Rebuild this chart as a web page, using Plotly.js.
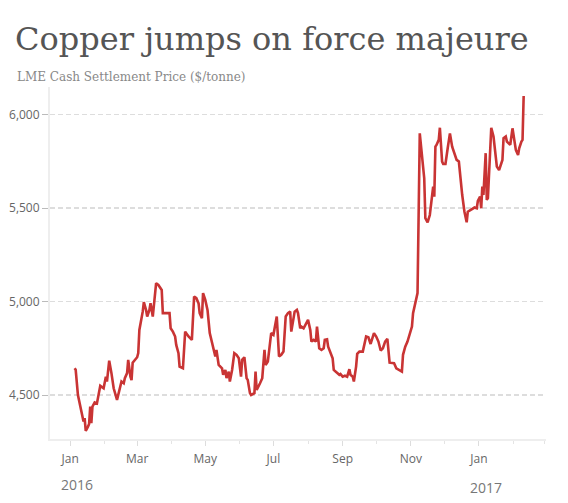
<!DOCTYPE html>
<html>
<head>
<meta charset="utf-8">
<script src="https://cdn.plot.ly/plotly-3.0.1.min.js"></script>
<style>html,body{margin:0;padding:0;background:#fff}#chart{width:568px;height:503px}</style>
</head>
<body>
<div id="chart"></div>
<script>
var dates = [
"2016-01-05","2016-01-06","2016-01-08","2016-01-10","2016-01-12","2016-01-13","2016-01-14","2016-01-15","2016-01-17","2016-01-18",
"2016-01-19","2016-01-20","2016-01-21","2016-01-23","2016-01-25","2016-01-26","2016-01-28","2016-01-31","2016-02-02","2016-02-03",
"2016-02-05","2016-02-07","2016-02-09","2016-02-12","2016-02-14","2016-02-16","2016-02-18","2016-02-19","2016-02-21","2016-02-22",
"2016-02-24","2016-02-25","2016-02-26","2016-02-28","2016-03-01","2016-03-02","2016-03-03","2016-03-06","2016-03-07","2016-03-09",
"2016-03-10","2016-03-12","2016-03-13","2016-03-15","2016-03-16","2016-03-18","2016-03-20","2016-03-23","2016-03-24","2016-03-27",
"2016-03-30","2016-03-31","2016-04-02","2016-04-04","2016-04-05","2016-04-07","2016-04-08","2016-04-11","2016-04-13","2016-04-16",
"2016-04-19","2016-04-21","2016-04-23","2016-04-25","2016-04-26","2016-04-28","2016-04-29","2016-05-01","2016-05-03","2016-05-05",
"2016-05-07","2016-05-08","2016-05-10","2016-05-11","2016-05-13","2016-05-16","2016-05-17","2016-05-19","2016-05-20","2016-05-22",
"2016-05-23","2016-05-25","2016-05-27","2016-05-29","2016-05-31","2016-06-02","2016-06-03","2016-06-05","2016-06-07","2016-06-08",
"2016-06-10","2016-06-11","2016-06-14","2016-06-15","2016-06-16","2016-06-19","2016-06-21","2016-06-23","2016-06-24","2016-06-26",
"2016-06-28","2016-06-29","2016-07-01","2016-07-02","2016-07-04","2016-07-06","2016-07-08","2016-07-10","2016-07-12","2016-07-14",
"2016-07-16","2016-07-17","2016-07-19","2016-07-20","2016-07-22","2016-07-23","2016-07-25","2016-07-26","2016-07-28","2016-07-31",
"2016-08-01","2016-08-03","2016-08-04","2016-08-06","2016-08-08","2016-08-09","2016-08-11","2016-08-13","2016-08-15","2016-08-16",
"2016-08-18","2016-08-19","2016-08-21","2016-08-23","2016-08-24","2016-08-27","2016-08-29","2016-08-30","2016-09-01","2016-09-03",
"2016-09-05","2016-09-07","2016-09-08","2016-09-10","2016-09-11","2016-09-13","2016-09-14","2016-09-16","2016-09-19","2016-09-22",
"2016-09-24","2016-09-26","2016-09-28","2016-09-29","2016-10-01","2016-10-03","2016-10-05","2016-10-07","2016-10-09","2016-10-11",
"2016-10-13","2016-10-15","2016-10-17","2016-10-19","2016-10-21","2016-10-24","2016-10-25","2016-10-27","2016-10-29","2016-10-31",
"2016-11-02","2016-11-03","2016-11-05","2016-11-07","2016-11-09","2016-11-13","2016-11-14","2016-11-16","2016-11-18","2016-11-20",
"2016-11-21","2016-11-22","2016-11-23","2016-11-24","2016-11-26","2016-11-27","2016-11-29","2016-11-30","2016-12-02","2016-12-04",
"2016-12-06","2016-12-08","2016-12-10","2016-12-12","2016-12-14","2016-12-15","2016-12-17","2016-12-19","2016-12-21","2016-12-22",
"2016-12-25","2016-12-28","2016-12-30","2016-12-31","2017-01-02","2017-01-03","2017-01-04","2017-01-05","2017-01-07","2017-01-08",
"2017-01-09","2017-01-10","2017-01-12","2017-01-14","2017-01-15","2017-01-17","2017-01-19","2017-01-20","2017-01-22","2017-01-23",
"2017-01-25","2017-01-26","2017-01-29","2017-01-31","2017-02-01","2017-02-03","2017-02-05","2017-02-06","2017-02-08","2017-02-09",
"2017-02-10"
];
var prices = [
4643,4635,4500,4438,4376,4358,4376,4308,4331,4345,
4438,4349,4438,4460,4455,4492,4549,4536,4598,4572,
4684,4617,4536,4474,4527,4572,4563,4590,4617,4688,
4598,4580,4673,4688,4702,4724,4848,4946,4997,4955,
4920,4955,4991,4920,4973,5098,5089,5062,4938,4938,
4938,4857,4839,4813,4768,4724,4652,4643,4839,4813,
4795,5027,5018,4990,4938,4911,5045,5009,4955,4831,
4786,4750,4706,4741,4661,4643,4608,4634,4590,4625,
4572,4634,4724,4715,4697,4598,4688,4702,4590,4581,
4510,4500,4510,4625,4527,4563,4590,4741,4661,4679,
4777,4831,4822,4857,4920,4706,4715,4733,4920,4938,
4946,4839,4911,4946,4955,4938,4857,4866,4857,4893,
4902,4848,4786,4795,4786,4866,4750,4741,4750,4795,
4798,4759,4732,4697,4634,4617,4608,4612,4598,4603,
4598,4638,4608,4598,4572,4652,4720,4732,4732,4813,
4809,4773,4813,4831,4813,4786,4738,4750,4786,4800,
4673,4670,4670,4643,4634,4625,4715,4759,4786,4831,
4866,4938,5000,5045,5900,5660,5446,5424,5463,5553,
5615,5561,5829,5838,5865,5930,5749,5736,5736,5820,
5900,5829,5794,5758,5749,5677,5570,5481,5424,5481,
5490,5503,5499,5538,5561,5499,5615,5570,5794,5544,
5553,5677,5930,5883,5829,5722,5704,5722,5758,5874,
5883,5856,5838,5927,5892,5811,5784,5820,5856,5865,
6100
];
var monthTickVals = ["2016-01-01","2016-03-01","2016-05-01","2016-07-01","2016-09-01","2016-11-01","2017-01-01"];
var monthTickText = ["Jan","Mar","May","Jul","Sep","Nov","Jan"];
var yearLabels = ["2016","2017"];
var yearDates = ["2016-01-01","2017-01-01"];
var yTickVals = [4500,5000,5500,6000];
var yTickText = ["4,500","5,000","5,500","6,000"];

var trace = {
  x: dates, y: prices, type: "scatter", mode: "lines",
  line: {color: "#c93434", width: 2.6},
  hoverinfo: "skip"
};

var tickFont = {family: "Open Sans, sans-serif", size: 12, color: "#666"};

var annotations = [
  {text: "LME Cash Settlement Price ($/tonne)", xref: "paper", yref: "paper",
   x: -0.0706, y: 1.028, xanchor: "left", yanchor: "middle", showarrow: false,
   font: {family: "DejaVu Serif, serif", size: 12, color: "#888"}},
  {text: yearLabels[0], xref: "x", yref: "paper", x: yearDates[0], y: -0.13,
   xanchor: "left", yanchor: "middle", xshift: -11, showarrow: false,
   font: {family: "Open Sans, sans-serif", size: 14, color: "#777"}},
  {text: yearLabels[1], xref: "x", yref: "paper", x: yearDates[1], y: -0.138,
   xanchor: "left", yanchor: "middle", xshift: -11, showarrow: false,
   font: {family: "Open Sans, sans-serif", size: 14, color: "#777"}}
];

var layout = {
  width: 568, height: 503,
  margin: {l: 50, r: 22, t: 87, b: 64, pad: 0},
  paper_bgcolor: "#fff", plot_bgcolor: "#fff",
  showlegend: false,
  title: {
    text: "Copper jumps on force majeure",
    font: {family: "DejaVu Serif, serif", size: 32, color: "#555"},
    x: 15/568, xanchor: "left", xref: "container",
    y: 1 - 39/503, yanchor: "middle", yref: "container"
  },
  xaxis: {
    type: "date",
    range: ["2015-12-14", "2017-03-02"],
    tickmode: "array", tickvals: monthTickVals, ticktext: monthTickText,
    ticks: "outside", ticklen: 5, tickcolor: "#ddd", tickwidth: 1,
    minor: {dtick: "M1", tick0: "2016-01-01", ticks: "outside", ticklen: 3, tickcolor: "#e4e4e4", showgrid: false},
    showline: true, linecolor: "#eee", linewidth: 2,
    showgrid: false, zeroline: false,
    tickfont: tickFont, ticklabelstandoff: 3,
    fixedrange: true
  },
  yaxis: {
    range: [4264.6, 6148],
    tickmode: "array", tickvals: yTickVals, ticktext: yTickText,
    ticks: "outside", ticklen: 6, tickcolor: "#bbb", tickwidth: 1,
    showline: true, linecolor: "#eee", linewidth: 2,
    showgrid: true, gridcolor: "#ddd", gridwidth: 1.3, griddash: "5px,3px",
    zeroline: false,
    tickfont: tickFont,
    fixedrange: true
  },
  annotations: annotations
};

Plotly.newPlot("chart", [trace], layout, {displayModeBar: false, staticPlot: true});
</script>
</body>
</html>
